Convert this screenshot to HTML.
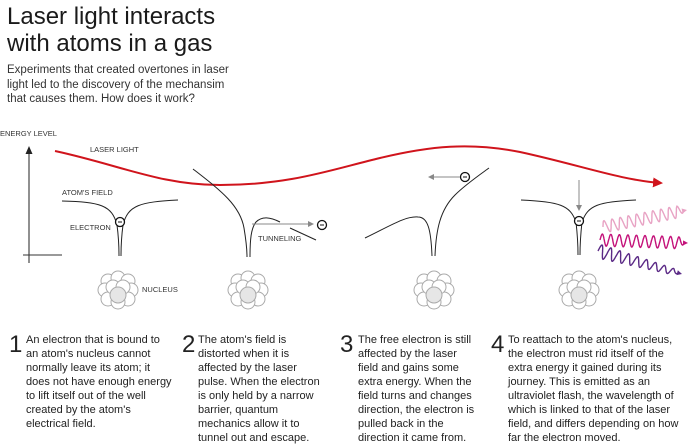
<!DOCTYPE html>
<html><head><meta charset="utf-8"><style>
body{margin:0;background:#fff;width:700px;height:445px;overflow:hidden;font-family:"Liberation Sans",sans-serif;color:#222;position:relative}
.t{position:absolute;left:7px;top:3px;font-size:24px;line-height:27px;color:#1a1a1a}
.s{position:absolute;left:7px;top:63px;font-size:11.5px;line-height:14.5px;color:#333}
.n{position:absolute;font-size:24px;line-height:24px;color:#222;top:333px}
.c{position:absolute;top:333px;font-size:11px;line-height:14px;color:#222;white-space:nowrap}
svg{position:absolute;left:0;top:0}
</style></head><body>
<div class="t">Laser light interacts<br>with atoms in a gas</div>
<div class="s">Experiments that created overtones in laser<br>light led to the discovery of the mechansim<br>that causes them. How does it work?</div>
<svg width="700" height="445" viewBox="0 0 700 445" font-family="Liberation Sans, sans-serif" font-size="7.5" fill="#333">
<defs>
<marker id="ag" markerWidth="6" markerHeight="6" refX="5" refY="3" orient="auto"><path d="M0,0 L6,3 L0,6z" fill="#888"/></marker>
<marker id="ar" markerWidth="5" markerHeight="5" refX="4" refY="2.5" orient="auto"><path d="M0,0 L5,2.5 L0,5z" fill="#d0141c"/></marker>
</defs>
<text x="0" y="136">ENERGY LEVEL</text>
<line x1="29" y1="152" x2="29" y2="263" stroke="#222" stroke-width="1"/>
<path d="M25.5,154 L29,146 L32.5,154z" fill="#222"/>
<line x1="23" y1="255" x2="62" y2="255" stroke="#333" stroke-width="1"/>
<text x="90" y="152">LASER LIGHT</text>
<path d="M55,151 C120,165 160,185 220,185 C290,185 330,170 380,158 C430,146 470,142 520,152 C580,165 620,180 661,183" fill="none" stroke="#d0141c" stroke-width="2" marker-end="url(#ar)"/>
<text x="62" y="195">ATOM'S FIELD</text>
<text x="70" y="230">ELECTRON</text>
<text x="142" y="292">NUCLEUS</text>
<text x="258" y="241">TUNNELING</text>
<g fill="none" stroke="#222" stroke-width="1">
<path d="M62,201 C100,202 112,205 117,225 C119,240 119,250 119,256"/>
<path d="M178,200 C140,202 128,205 123,225 C121,240 121,250 121,256"/>
<path d="M193,169 C220,190 240,205 244,228 C246,240 247,250 247,257"/>
<path d="M250,257 C250,240 251,228 256,222 C262,216 270,217 280,222"/>
<path d="M290,228 L316,240"/>
<path d="M365,238 C390,226 405,216 418,217 C428,217 431,230 432,256"/>
<path d="M435,256 C436,230 440,210 455,195 C465,185 478,176 489,168"/>
<path d="M521,200 C560,202 570,205 576,222 C578,240 578,250 578,255"/>
<path d="M636,200 C598,202 588,205 582,222 C580,240 580,250 580,255"/>
</g>
<g fill="#fff" stroke="#111" stroke-width="1.3">
<circle cx="120" cy="222" r="4.5"/><circle cx="322" cy="225" r="4.5"/><circle cx="465" cy="177" r="4.5"/><circle cx="579" cy="221" r="4.5"/>
</g>
<g stroke="#111" stroke-width="1"><line x1="118" y1="222" x2="122" y2="222"/><line x1="320" y1="225" x2="324" y2="225"/><line x1="463" y1="177" x2="467" y2="177"/><line x1="577" y1="221" x2="581" y2="221"/></g>
<g stroke="#888" stroke-width="1">
<line x1="252" y1="224" x2="313" y2="224" marker-end="url(#ag)"/>
<line x1="460" y1="177" x2="429" y2="177" marker-end="url(#ag)"/>
<line x1="579" y1="180" x2="579" y2="210" marker-end="url(#ag)"/>
</g>
<g id="nuc"></g>
<g id="waves"></g>
</svg>
<div class="n" style="left:9px">1</div>
<div class="c" style="left:26px">An electron that is bound to<br>an atom's nucleus cannot<br>normally leave its atom; it<br>does not have enough energy<br>to lift itself out of the well<br>created by the atom's<br>electrical field.</div>
<div class="n" style="left:182px">2</div>
<div class="c" style="left:198px">The atom's field is<br>distorted when it is<br>affected by the laser<br>pulse. When the electron<br>is only held by a narrow<br>barrier, quantum<br>mechanics allow it to<br>tunnel out and escape.</div>
<div class="n" style="left:340px">3</div>
<div class="c" style="left:358px">The free electron is still<br>affected by the laser<br>field and gains some<br>extra energy. When the<br>field turns and changes<br>direction, the electron is<br>pulled back in the<br>direction it came from.</div>
<div class="n" style="left:491px">4</div>
<div class="c" style="left:508px">To reattach to the atom's nucleus,<br>the electron must rid itself of the<br>extra energy it gained during its<br>journey. This is emitted as an<br>ultraviolet flash, the wavelength of<br>which is linked to that of the laser<br>field, and differs depending on how<br>far the electron moved.</div>
<script>
var NS="http://www.w3.org/2000/svg";
function el(p,t,a){var e=document.createElementNS(NS,t);for(var k in a)e.setAttribute(k,a[k]);p.appendChild(e);return e;}
var ng=document.getElementById('nuc');
[[118,290],[248,290],[434,290],[579,290]].forEach(function(c){
 var x=c[0],y=c[1];
 var pts=[[-10,-9],[0,-12],[10,-9],[-13,0],[13,0],[-10,9],[10,9],[0,12],[-5,-3],[5,-3]];
 pts.forEach(function(p){el(ng,'circle',{cx:x+p[0],cy:y+p[1],r:7,fill:'#fff',stroke:'#aaa','stroke-width':1});});
 el(ng,'circle',{cx:x,cy:y+5,r:8,fill:'#e6e6e6',stroke:'#aaa','stroke-width':1});
});
var wg=document.getElementById('waves');
function wave(x1,y1,x2,y2,n,amp,col,dec){
 var d='',N=300;
 var dx=x2-x1,dy=y2-y1,L=Math.sqrt(dx*dx+dy*dy),ux=dx/L,uy=dy/L;
 for(var i=0;i<=N;i++){var t=i/N;var a=amp*(dec?(1-0.6*t):1)*(t>0.92?(1-t)/0.08:1);var s=-a*Math.sin(t*n*2*Math.PI);
  var x=x1+dx*t*0.97-uy*s,y=y1+dy*t*0.97+ux*s;d+=(i?'L':'M')+x.toFixed(1)+','+y.toFixed(1);}
 el(wg,'path',{d:d,fill:'none',stroke:col,'stroke-width':1.4});
 var hx=x2,hy=y2;el(wg,'path',{d:'M'+(hx-5*ux-2.5*uy)+','+(hy-5*uy+2.5*ux)+' L'+hx+','+hy+' L'+(hx-5*ux+2.5*uy)+','+(hy-5*uy-2.5*ux)+'z',fill:col});
}
wave(603,227,687,210,10,6,'#e8a3c4',false);
wave(600,240,688,243,10,6,'#c4127a',false);
wave(598,251,682,274,9,7,'#5b2a86',true);
</script>
</body></html>
